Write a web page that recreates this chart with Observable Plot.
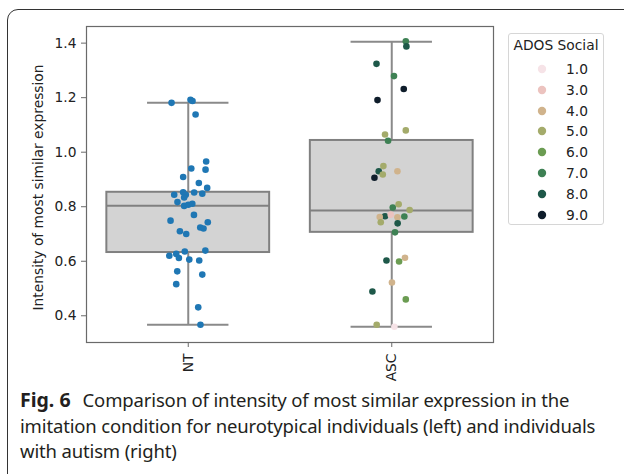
<!DOCTYPE html>
<html><head><meta charset="utf-8">
<script src="https://cdn.jsdelivr.net/npm/d3@7"></script>
<script src="https://cdn.jsdelivr.net/npm/@observablehq/plot@0.6"></script>
<style>
body{margin:0;background:#fff;}
#wrap{position:relative;width:624px;height:474px;overflow:hidden;font-family:"DejaVu Sans",sans-serif;}
#frame{position:absolute;left:7px;top:9px;width:700px;height:600px;border:1.3px solid #333;border-radius:11px;box-sizing:border-box;}
#chart{position:absolute;left:0;top:0;}
#legend{position:absolute;left:508px;top:33px;width:96px;height:192px;border:1px solid #d6d6d6;border-radius:3px;background:#fff;box-sizing:border-box;font-family:"DejaVu Sans";font-size:13.8px;color:#222;}
#legend .t{position:absolute;left:0;width:100%;text-align:center;top:3px;white-space:nowrap;}
#legend .row{position:absolute;left:0;width:100%;height:16px;}
#legend .row svg{position:absolute;left:25px;top:0;}
#legend .row span{position:absolute;left:57px;top:0;line-height:16px;}
#caption{position:absolute;left:20px;top:387px;white-space:nowrap;font-family:"Noto Sans";font-size:18.5px;line-height:25.5px;color:#231f20;letter-spacing:-0.15px;}
#caption b{font-size:19.5px;margin-right:12px;letter-spacing:0;}
</style></head>
<body>
<div id="wrap">
  <div id="frame"></div>
  <div id="chart"></div>
  <div id="legend"></div>
  <div id="caption"><b>Fig. 6</b>Comparison of intensity of most similar expression in the<br>imitation condition for neurotypical individuals (left) and individuals<br>with autism (right)</div>
</div>
<script>
// categories
const groups = ["NT", "ASC"];
// box statistics
const q1 = [0.632, 0.706];
const median = [0.804, 0.786];
const q3 = [0.853, 1.043];
const whiskerLow = [0.367, 0.360];
const whiskerHigh = [1.181, 1.405];
// NT points: value and horizontal jitter (category units)
const ntValues = [1.181,1.192,1.188,1.138,0.966,0.940,0.936,0.909,0.887,0.869,0.844,0.853,0.844,0.852,0.848,0.834,0.817,0.803,0.807,0.811,0.770,0.749,0.743,0.724,0.720,0.710,0.700,0.639,0.636,0.627,0.620,0.612,0.606,0.603,0.563,0.551,0.516,0.431,0.367];
const ntJitter = [-0.082,0.011,0.021,0.036,0.088,0.015,0.085,-0.025,0.052,0.093,-0.069,-0.025,-0.012,0.029,0.069,-0.020,-0.053,-0.020,0.000,0.020,0.028,-0.087,0.096,0.059,0.075,-0.041,-0.010,0.084,-0.017,-0.059,-0.093,-0.046,0.005,0.054,-0.054,0.069,-0.059,0.049,0.060];
// ASC points: value, jitter, ADOS Social score
const ascValues = [1.407,1.388,1.324,1.279,1.232,1.191,1.080,1.065,1.042,0.949,0.930,0.918,0.930,0.906,0.797,0.809,0.788,0.764,0.765,0.762,0.771,0.761,0.743,0.739,0.706,0.603,0.599,0.613,0.522,0.489,0.460,0.367,0.360];
const ascJitter = [0.069,0.072,-0.075,0.011,0.059,-0.070,0.069,-0.033,-0.018,-0.041,-0.064,-0.044,0.028,-0.085,0.005,0.034,0.088,0.062,-0.033,-0.059,-0.005,0.028,-0.054,0.029,0.016,-0.026,0.036,0.065,0.001,-0.095,0.069,-0.074,0.013];
const ascAdos = [7,8,8,7,9,9,5,5,7,5,8,5,4,9,7,5,5,7,8,4,3,4,5,8,7,8,6,4,4,8,6,5,1];
// legend
const adosLevels = [1,3,4,5,6,7,8,9];
const adosColors = ["#f6e3e7","#ecc3bf","#d0b38c","#a4ab6b","#6b9c52","#3e8154","#1e5849","#0f1d2b"];
const yTicks = [0.4,0.6,0.8,1.0,1.2,1.4];
const yLabel = "Intensity of most similar expression";

const boxes = groups.map((g,i)=>({i, q1:q1[i], med:median[i], q3:q3[i], lo:whiskerLow[i], hi:whiskerHigh[i]}));
const caps = boxes.flatMap(b=>[{i:b.i, y:b.lo},{i:b.i, y:b.hi}]);
const nt = ntValues.map((v,k)=>({x:0+ntJitter[k], v}));
const asc = ascValues.map((v,k)=>({x:1+ascJitter[k], v, s:ascAdos[k]}));

const chart = Plot.plot({
  width: 624, height: 390,
  marginLeft: 86, marginRight: 131, marginTop: 26, marginBottom: 48,
  style: {fontFamily: "DejaVu Sans", fontSize: "13.8px", color: "#222", background: "transparent", overflow: "visible"},
  x: {domain: [-0.5, 1.5], axis: null},
  y: {domain: [0.302, 1.461], axis: null},
  color: {type: "ordinal", domain: adosLevels, range: adosColors},
  marks: [
    Plot.ruleX(boxes, {x: "i", y1: "lo", y2: "hi", stroke: "#8a8a8a", strokeWidth: 2}),
    Plot.ruleY(caps, {y: "y", x1: d=>d.i-0.2, x2: d=>d.i+0.2, stroke: "#8a8a8a", strokeWidth: 2}),
    Plot.rect(boxes, {x1: d=>d.i-0.4, x2: d=>d.i+0.4, y1: "q1", y2: "q3", fill: "#d3d3d3", stroke: "#808080", strokeWidth: 2}),
    Plot.ruleY(boxes, {y: "med", x1: d=>d.i-0.4, x2: d=>d.i+0.4, stroke: "#808080", strokeWidth: 2}),
    Plot.dot(nt, {x: "x", y: "v", r: 3.3, fill: "#1f77b4"}),
    Plot.dot(asc, {x: "x", y: "v", r: 3.3, fill: "s"}),
    Plot.frame({stroke: "#6a6a6a", strokeWidth: 1.2}),
    Plot.axisY({ticks: yTicks, tickFormat: d3.format(".1f"), tickSize: 5, tickPadding: 5, stroke: "#6a6a6a", label: null}),
    Plot.axisX({ticks: [0,1], tickFormat: i => groups[i], tickRotate: -90, tickSize: 5, tickPadding: 6, stroke: "#6a6a6a", label: null}),
    Plot.text([yLabel], {text: d=>d, frameAnchor: "left", textAnchor: "middle", rotate: -90, dx: -48, dy: 3, fill: "#222", fontSize: 13.8})
  ]
});
document.getElementById("chart").appendChild(chart);

const lg = document.getElementById("legend");
const t = document.createElement("div"); t.className = "t"; t.textContent = "ADOS Social"; lg.appendChild(t);
adosLevels.forEach((lev,k)=>{
  const row = document.createElement("div"); row.className = "row";
  row.style.top = (26.7 + 20.9*k) + "px";
  row.innerHTML = `<svg width="16" height="16"><circle cx="8" cy="8" r="4.2" fill="${adosColors[k]}"/></svg><span>${d3.format(".1f")(lev)}</span>`;
  lg.appendChild(row);
});
</script>
</body></html>
